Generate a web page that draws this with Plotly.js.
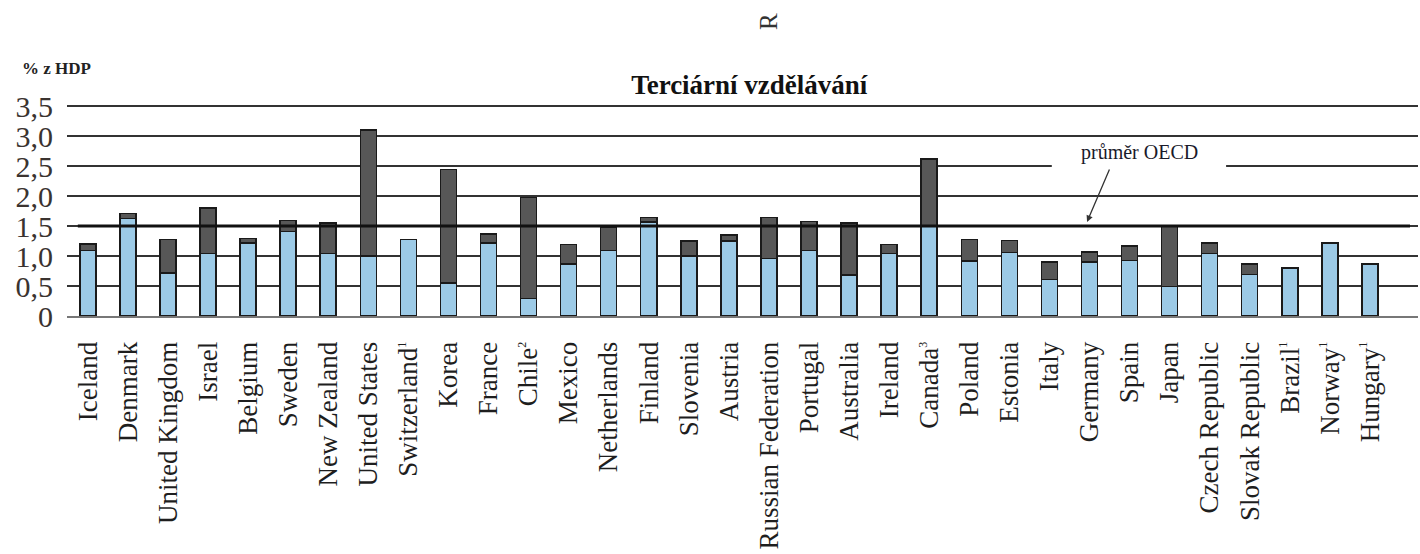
<!DOCTYPE html>
<html>
<head>
<meta charset="utf-8">
<script src="https://cdn.plot.ly/plotly-3.0.1.min.js"></script>
<style>html,body{margin:0;padding:0;background:#fff;}#chart{width:1420px;height:554px;}</style>
</head>
<body>
<div id="chart"></div>
<script>
var countries = ['Iceland','Denmark','United Kingdom','Israel','Belgium','Sweden','New Zealand','United States','Switzerland<sup><span style="font-size:12px">1</span></sup>','Korea','France','Chile<sup><span style="font-size:12px">2</span></sup>','Mexico','Netherlands','Finland','Slovenia','Austria','Russian Federation','Portugal','Australia','Ireland','Canada<sup><span style="font-size:12px">3</span></sup>','Poland','Estonia','Italy','Germany','Spain','Japan','Czech Republic','Slovak Republic','Brazil<sup><span style="font-size:12px">1</span></sup>','Norway<sup><span style="font-size:12px">1</span></sup>','Hungary<sup><span style="font-size:12px">1</span></sup>'];
var publicSpend = [1.09,1.63,0.72,1.04,1.22,1.41,1.04,1.00,1.28,0.55,1.22,0.29,0.87,1.09,1.57,1.00,1.25,0.96,1.09,0.68,1.04,1.50,0.92,1.06,0.61,0.90,0.93,0.49,1.04,0.69,0.80,1.22,0.87];
var privateSpend = [0.11,0.08,0.56,0.76,0.07,0.18,0.51,2.10,null,1.89,0.15,1.69,0.32,0.39,0.07,0.25,0.10,0.68,0.49,0.87,0.15,1.12,0.36,0.20,0.29,0.17,0.24,1.01,0.18,0.18,null,null,null];
var oecdAverage = 1.5;
var yTickVals = [0,0.5,1,1.5,2,2.5,3,3.5];
var yTickText = ['0','0,5','1,0','1,5','2,0','2,5','3,0','3,5'];

var serif = 'Liberation Serif, Times New Roman, serif';
var barLine = {color:'#1a1a1a', width:1.5};

var traces = [
  {type:'bar', x:countries, y:publicSpend, width:0.4, marker:{color:'#9ccae6', line:barLine}, hoverinfo:'x+y'},
  {type:'bar', x:countries, y:privateSpend, width:0.4, marker:{color:'#575757', line:barLine}, hoverinfo:'x+y'}
];

var layout = {
  width:1420, height:554,
  margin:{l:67, r:2, t:105, b:238},
  paper_bgcolor:'#fff', plot_bgcolor:'#fff',
  barmode:'stack', showlegend:false,
  font:{family:serif, color:'#222'},
  title:{text:'<b>Terciární vzdělávání</b>', font:{family:serif, size:27, color:'#111'}, xref:'paper', x:0.505, xanchor:'center', yref:'container', y:1-85/554, yanchor:'middle'},
  xaxis:{type:'category', range:[-0.52, 33.2], showgrid:false, zeroline:false, showline:true, linecolor:'#777', linewidth:2,
         tickangle:-90, tickfont:{family:serif, size:27, color:'#1e1e1e'}, ticks:'', ticklabelstandoff:13, automargin:false},
  yaxis:{range:[0,3.52], tickvals:yTickVals, ticktext:yTickText, showgrid:true, gridcolor:'#333', gridwidth:1.8,
         zeroline:false, showline:false, ticks:'', tickfont:{family:serif, size:30, color:'#3a3330'}, ticklabelstandoff:13, automargin:false},
  shapes:[
    {type:'rect', layer:'between', xref:'x', yref:'y', x0:24.06, x1:28.41, y0:2.44, y1:2.56, fillcolor:'#fff', line:{width:0}},
    {type:'line', layer:'above', xref:'x', yref:'y', x0:-0.25, x1:33.0, y0:oecdAverage, y1:oecdAverage, line:{color:'#111', width:3}}
  ],
  annotations:[
    {text:'průměr OECD', xref:'x', yref:'y', x:26.24, y:2.72, showarrow:false, font:{family:serif, size:20, color:'#1a1a2a'}},
    {text:'', xref:'x', yref:'y', x:24.94, y:1.57, ax:23, ay:-54, showarrow:true, arrowhead:2, arrowsize:1, arrowwidth:1.3, arrowcolor:'#333'},
    {text:'<b>% z HDP</b>', xref:'paper', yref:'paper', x:(56-67)/1351, y:(316-68)/211, xanchor:'center', yanchor:'middle', showarrow:false, font:{family:serif, size:17, color:'#222'}},
    {text:'R', xref:'paper', yref:'paper', x:(768-67)/1351, y:(316-22)/211, xanchor:'center', yanchor:'middle', textangle:-90, showarrow:false, font:{family:serif, size:25, color:'#333'}}
  ]
};

Plotly.newPlot('chart', traces, layout, {displayModeBar:false, staticPlot:true});
</script>
</body>
</html>
